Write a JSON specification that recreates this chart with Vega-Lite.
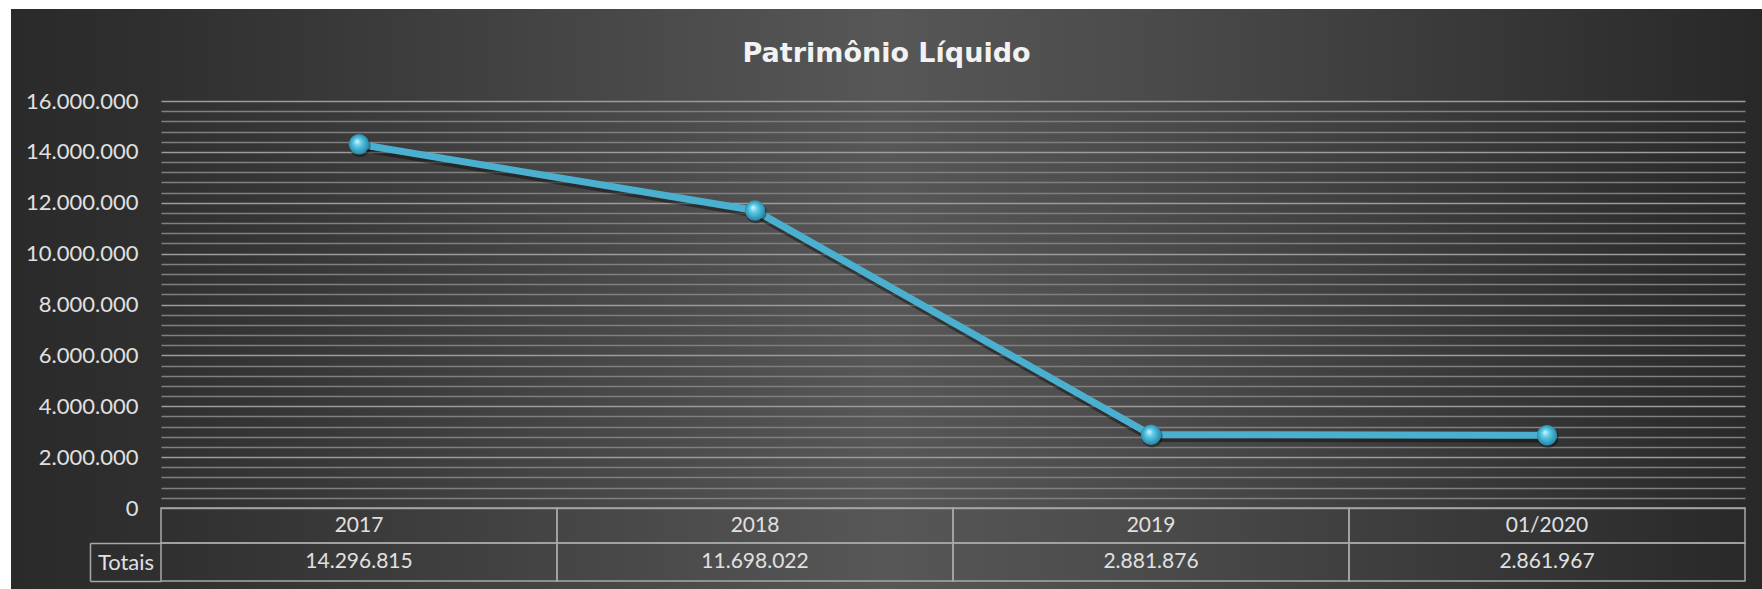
{
  "$schema": "https://vega.github.io/schema/vega-lite/v6.json",
  "width": 1751,
  "height": 580,
  "autosize": {"type": "none"},
  "padding": {"left": 11, "top": 9, "right": 0, "bottom": 0},
  "background": "#ffffff",
  "view": {
    "stroke": null,
    "fill": {
      "gradient": "linear", "x1": 0, "y1": 0, "x2": 1, "y2": 0,
      "stops": [
        {"offset": 0, "color": "#2a2a2a"},
        {"offset": 0.08, "color": "#2f2f2f"},
        {"offset": 0.22, "color": "#3c3c3c"},
        {"offset": 0.5, "color": "#575757"},
        {"offset": 0.66, "color": "#4a4a4a"},
        {"offset": 0.85, "color": "#373737"},
        {"offset": 1, "color": "#282828"}
      ]
    }
  },
  "title": {
    "text": "Patrimônio Líquido",
    "frame": "group",
    "anchor": "middle",
    "offset": -70,
    "font": "DejaVu Sans",
    "fontSize": 27,
    "fontWeight": "bold",
    "color": "#f2f2f2"
  },
  "config": {
    "locale": {"number": {"decimal": ",", "thousands": ".", "grouping": [3], "currency": ["R$", ""]}}
  },
  "data": {
    "values": [
      {"periodo": "2017", "valor": 14296815},
      {"periodo": "2018", "valor": 11698022},
      {"periodo": "2019", "valor": 2881876},
      {"periodo": "01/2020", "valor": 2861967}
    ]
  },
  "layer": [
    {
      "encoding": {
        "x": {"field": "periodo", "type": "nominal", "sort": null,
              "scale": {"domain": ["2017", "2018", "2019", "01/2020"], "range": [150, 1734], "paddingInner": 0, "paddingOuter": 0},
              "axis": null},
        "y": {"field": "valor", "type": "quantitative",
              "scale": {"domain": [0, 16000000], "range": [499, 92], "nice": false, "zero": true},
              "axis": {
                "orient": "left", "offset": -150, "title": null,
                "domain": false, "ticks": false, "labelPadding": 23,
                "values": [0, 400000, 800000, 1200000, 1600000, 2000000, 2400000, 2800000, 3200000, 3600000, 4000000, 4400000, 4800000, 5200000, 5600000, 6000000, 6400000, 6800000, 7200000, 7600000, 8000000, 8400000, 8800000, 9200000, 9600000, 10000000, 10400000, 10800000, 11200000, 11600000, 12000000, 12400000, 12800000, 13200000, 13600000, 14000000, 14400000, 14800000, 15200000, 15600000, 16000000],
                "format": ",d",
                "labelExpr": "datum.value % 2000000 === 0 ? datum.label : ''",
                "labelOverlap": false,
                "labelFont": "Lato", "labelFontSize": 22, "labelColor": "#e0e0e0",
                "grid": true,
                "gridColor": {"condition": {"test": "datum.value % 2000000 === 0", "value": "#9c9c9c"}, "value": "#808080"},
                "gridWidth": 1.6
              }}
      },
      "layer": [
        {"mark": {"type": "line", "color": "#000000", "strokeWidth": 8.5, "opacity": 0.4, "yOffset": 3, "xOffset": 1}},
        {"mark": {"type": "line", "color": "#4bb0d0", "strokeWidth": 7}},
        {"mark": {"type": "point", "filled": true, "shape": "circle", "size": 460, "color": "#000000", "opacity": 0.35, "yOffset": 2, "xOffset": 1}},
        {"mark": {"type": "point", "filled": true, "shape": "circle", "size": 420, "opacity": 1, "strokeWidth": 0,
                  "fill": {"gradient": "radial", "x1": 0.4, "y1": 0.35, "r1": 0, "x2": 0.5, "y2": 0.5, "r2": 0.55,
                           "stops": [{"offset": 0, "color": "#d8f6ff"}, {"offset": 0.35, "color": "#5ccbe8"}, {"offset": 1, "color": "#1f7ea0"}]}}}
      ]
    },
    {
      "encoding": {
        "x": {"field": "periodo", "type": "nominal", "sort": null,
              "scale": {"domain": ["2017", "2018", "2019", "01/2020"], "range": [150, 1734], "paddingInner": 0, "paddingOuter": 0},
              "axis": null},
        "y": {"datum": "Período", "type": "nominal",
              "scale": {"range": [499, 534], "paddingInner": 0, "paddingOuter": 0},
              "axis": null}
      },
      "layer": [
        {"mark": {"type": "rect", "fill": "transparent", "stroke": "#a8a8a8", "strokeWidth": 1.5}},
        {"mark": {"type": "text", "font": "Lato", "fontSize": 21, "color": "#e0e0e0", "align": "center", "baseline": "middle"},
         "encoding": {"text": {"field": "periodo", "type": "nominal"}}}
      ]
    },
    {
      "encoding": {
        "x": {"field": "periodo", "type": "nominal", "sort": null,
              "scale": {"domain": ["2017", "2018", "2019", "01/2020"], "range": [150, 1734], "paddingInner": 0, "paddingOuter": 0},
              "axis": null},
        "y": {"datum": "Totais", "type": "nominal",
              "scale": {"range": [534, 572], "paddingInner": 0, "paddingOuter": 0},
              "axis": {
                "orient": "right", "offset": -1672, "title": null, "grid": false,
                "domain": true, "domainColor": "#a8a8a8", "domainWidth": 1.5,
                "ticks": true, "tickBand": "extent", "tickSize": 71, "tickColor": "#a8a8a8", "tickWidth": 1.5,
                "labelPadding": -35.5, "labelAlign": "center",
                "labelFont": "Lato", "labelFontSize": 22, "labelColor": "#e0e0e0"
              }}
      },
      "layer": [
        {"mark": {"type": "rect", "fill": "transparent", "stroke": "#a8a8a8", "strokeWidth": 1.5}},
        {"mark": {"type": "text", "font": "Lato", "fontSize": 21, "color": "#e0e0e0", "align": "center", "baseline": "middle"},
         "encoding": {"text": {"field": "valor", "type": "quantitative", "format": ",d"}}}
      ]
    }
  ],
  "resolve": {"scale": {"y": "independent"}, "axis": {"y": "independent"}}
}
